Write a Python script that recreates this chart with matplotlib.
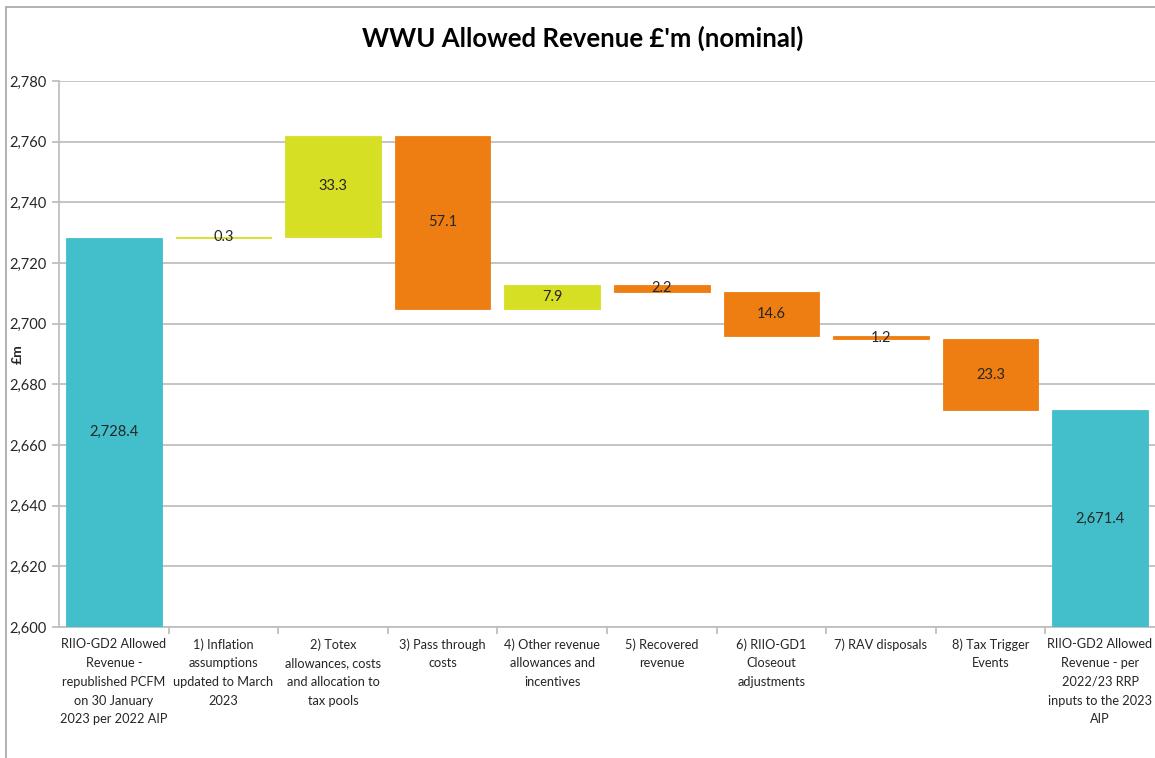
import matplotlib
matplotlib.use("Agg")
import matplotlib.pyplot as plt
from matplotlib.patches import Rectangle
from matplotlib.ticker import FuncFormatter, MultipleLocator

categories = [
    "RIIO-GD2 Allowed\nRevenue -\nrepublished PCFM\non 30 January\n2023 per 2022 AIP",
    "1) Inflation\nassumptions\nupdated to March\n2023",
    "2) Totex\nallowances, costs\nand allocation to\ntax pools",
    "3) Pass through\ncosts",
    "4) Other revenue\nallowances and\nincentives",
    "5) Recovered\nrevenue",
    "6) RIIO-GD1\nCloseout\nadjustments",
    "7) RAV disposals",
    "8) Tax Trigger\nEvents",
    "RIIO-GD2 Allowed\nRevenue - per\n2022/23 RRP\ninputs to the 2023\nAIP",
]
start_total = 2728.4
changes = [0.3, 33.3, -57.1, 7.9, -2.2, -14.6, -1.2, -23.3]
end_total = 2671.4

TEAL = "#42BFCB"
LIME = "#D6DF23"
ORANGE = "#EE7E11"
GRID = "#BFBFBF"
TEXT = "#262626"

plt.rcParams['font.family'] = ['Lato', 'DejaVu Sans']

fig = plt.figure(figsize=(11.55, 7.58), dpi=100)
AXL, AXW = 59.2, 1095.6
ax = fig.add_axes([AXL/1155, 1-627/758, AXW/1155, (627-81)/758])

bottoms, heights, colors, labels = [], [], [], []
bottoms.append(0); heights.append(start_total); colors.append(TEAL)
labels.append(f"{start_total:,.1f}")
cum = start_total
for c in changes:
    if c >= 0:
        bottoms.append(cum); heights.append(c); colors.append(LIME)
    else:
        bottoms.append(cum + c); heights.append(-c); colors.append(ORANGE)
    labels.append(f"{abs(c):.1f}")
    cum += c
bottoms.append(0); heights.append(end_total); colors.append(TEAL)
labels.append(f"{end_total:,.1f}")

ymin, ymax = 2600, 2780
x = list(range(len(categories)))
ax.bar(x, heights, bottom=bottoms, width=0.872, color=colors,
       edgecolor=colors, linewidth=0.6, zorder=3)

for i in x:
    lo = max(bottoms[i], ymin)
    hi = bottoms[i] + heights[i]
    ax.text(i, (lo + hi) / 2, labels[i], ha="center", va="center",
            fontsize=10.5, color=TEXT, zorder=4)

ax.set_xlim(-0.5, 9.5)
ax.set_ylim(ymin, ymax)
ax.yaxis.set_major_locator(MultipleLocator(20))
ax.yaxis.set_major_formatter(FuncFormatter(lambda v, p: f"{v:,.0f}"))
ax.grid(axis="y", color=GRID, linewidth=1.3, zorder=0)
ax.set_axisbelow(True)

ax.set_xticks(x)
ax.set_xticklabels(categories, fontsize=9.2, color=TEXT, linespacing=1.68)
ax.set_xticks([i - 0.5 for i in range(1, 10)], minor=True)
ax.tick_params(axis="x", which="major", length=0, pad=8)
ax.tick_params(axis="x", which="minor", length=5, color=GRID, width=1.3)
ax.tick_params(axis="y", length=5, color=GRID, width=1.3, labelsize=10.5,
               labelcolor=TEXT, pad=4)

for s in ["top", "right"]:
    ax.spines[s].set_visible(False)
for s in ["left", "bottom"]:
    ax.spines[s].set_color(GRID)
    ax.spines[s].set_linewidth(1.3)

ax.set_ylabel("£m", fontsize=10, fontweight="bold", color=TEXT)
ax.yaxis.set_label_coords(-35/AXW, 0.5)

fig.text(583/1155, 1-38/758, "WWU Allowed Revenue £'m (nominal)",
         ha="center", va="center", fontsize=18.5, fontweight="bold", color="black")

fig.patches.append(Rectangle((6/1155, -0.05), 1.2, 1-7/758+0.05,
                             transform=fig.transFigure, fill=False,
                             edgecolor="#A6A6A6", linewidth=1.2))

fig.savefig("out.png", dpi=100)
